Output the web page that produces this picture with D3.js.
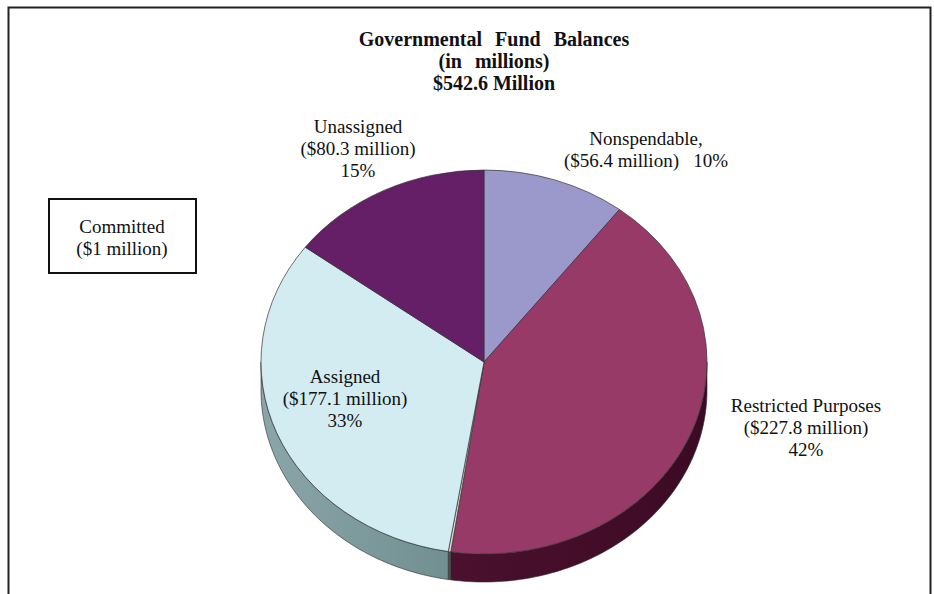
<!DOCTYPE html>
<html>
<head>
<meta charset="utf-8">
<script src="https://cdn.jsdelivr.net/npm/d3@7"></script>
<style>
  html, body { margin: 0; padding: 0; background: #fff; }
</style>
</head>
<body>
<div class="chart-wrapper"></div>
<script>
//====================DATA===================

const categories = ['Nonspendable', 'Restricted Purposes', 'Committed', 'Assigned', 'Unassigned'];
const amounts = [56.4, 227.8, 1, 177.1, 80.3];
const titleLines = ['Governmental Fund Balances', '(in millions)', '$542.6 Million'];

//====================STYLE / LAYOUT===================

const serif = 'Liberation Serif';

const topColors = {
  'Nonspendable': '#9b98cb',
  'Restricted Purposes': '#973a68',
  'Committed': '#d9d9d9',
  'Assigned': '#d3ecf1',
  'Unassigned': '#651f66'
};
const sideColors = {
  'Nonspendable': ['#6c6a92', '#4d4b6c'],
  'Restricted Purposes': ['#561536', '#3c0a24'],
  'Committed': ['#555', '#444'],
  'Assigned': ['#8aa6a8', '#4f6e71'],
  'Unassigned': ['#451346', '#300c31']
};

const width = 934;
const height = 594;
const cx = 484, cy = 362;
const rx = 223, ry = 192, depth = 28;

const atomEl = d3.select('.chart-wrapper');

const svg = atomEl.append('svg')
  .attr('width', width)
  .attr('height', height)
  .attr('font-family', serif);

// frame
svg.append('rect')
  .attr('x', 8.5).attr('y', 7.5)
  .attr('width', 922).attr('height', 620)
  .attr('fill', 'none')
  .attr('stroke', '#222')
  .attr('stroke-width', 2);

//====================TITLE===================

svg.append('g')
  .selectAll('text')
  .data(titleLines)
  .enter()
  .append('text')
  .attr('x', 494)
  .attr('y', (d, i) => 46 + i * 22)
  .attr('text-anchor', 'middle')
  .attr('font-family', serif)
  .attr('font-weight', 'bold')
  .attr('font-size', 20)
  .attr('fill', '#111')
  .attr('word-spacing', (d, i) => i < 2 ? 8 : 0)
  .text(d => d);

//====================PIE===================

const total = d3.sum(amounts);
const pie = d3.pie().sort(null).value(d => d.value);
const arcs = pie(categories.map((c, i) => ({ name: c, value: amounts[i] })));

const pt = (a, dy = 0) => [cx + rx * Math.sin(a), cy - ry * Math.cos(a) + dy];

const defs = svg.append('defs');
categories.forEach((c, i) => {
  const g = defs.append('linearGradient')
    .attr('id', 'side' + i)
    .attr('gradientUnits', 'userSpaceOnUse')
    .attr('x1', cx - rx).attr('x2', cx + rx)
    .attr('y1', 0).attr('y2', 0);
  g.append('stop').attr('offset', '0%').attr('stop-color', sideColors[c][0]);
  g.append('stop').attr('offset', '100%').attr('stop-color', sideColors[c][1]);
});

// side walls: only the front half of the ellipse is visible
const sidePath = d => {
  const s = Math.max(d.startAngle, Math.PI / 2);
  const e = Math.min(d.endAngle, Math.PI * 3 / 2);
  if (s >= e) return null;
  const n = Math.max(2, Math.ceil((e - s) / 0.02));
  const angles = d3.range(n + 1).map(k => s + (e - s) * k / n);
  const top = angles.map(a => pt(a));
  const bottom = angles.slice().reverse().map(a => pt(a, depth));
  return d3.line()(top.concat(bottom)) + 'Z';
};

svg.append('g')
  .attr('class', 'sides')
  .selectAll('path')
  .data(arcs.filter(d => sidePath(d)))
  .enter()
  .append('path')
  .attr('d', sidePath)
  .attr('fill', d => 'url(#side' + d.index + ')')
  .attr('stroke', '#2a2a2a')
  .attr('stroke-width', 0.6);

const arc = d3.arc().innerRadius(0).outerRadius(rx);

svg.append('g')
  .attr('class', 'tops')
  .attr('transform', `translate(${cx},${cy}) scale(1,${ry / rx})`)
  .selectAll('path')
  .data(arcs)
  .enter()
  .append('path')
  .attr('d', arc)
  .attr('fill', d => topColors[d.data.name])
  .attr('stroke', '#333')
  .attr('stroke-width', 0.7)
  .attr('vector-effect', 'non-scaling-stroke');

//====================LABELS===================

const fmtM = v => `($${v} million)`;
const pct = v => Math.round(v / total * 100) + '%';

const labelLayout = {
  'Nonspendable': { x: 646, y: 145 },
  'Restricted Purposes': { x: 806, y: 412 },
  'Committed': { x: 122, y: 233 },
  'Assigned': { x: 345, y: 383 },
  'Unassigned': { x: 358, y: 133 }
};

const labelLines = d => {
  const name = d.data.name, v = d.data.value;
  if (name === 'Nonspendable') return [name + ',', fmtM(v) + '\u00a0\u00a0 ' + pct(v)];
  if (name === 'Committed') return [name, fmtM(v)];
  return [name, fmtM(v), pct(v)];
};

// committed box
const cl = labelLayout['Committed'];
svg.append('rect')
  .attr('x', cl.x - 73).attr('y', 199)
  .attr('width', 147).attr('height', 74)
  .attr('fill', '#fff')
  .attr('stroke', '#111')
  .attr('stroke-width', 2);

const labels = svg.append('g')
  .attr('class', 'labels')
  .selectAll('text')
  .data(arcs)
  .enter()
  .append('text')
  .attr('text-anchor', 'middle')
  .attr('font-family', serif)
  .attr('fill', '#111')
  .attr('font-size', 19);

labels.selectAll('tspan')
  .data(d => labelLines(d).map(t => ({ t, pos: labelLayout[d.data.name] })))
  .enter()
  .append('tspan')
  .attr('x', d => d.pos.x)
  .attr('y', (d, i) => d.pos.y + i * 22)
  .text(d => d.t);
</script>
</body>
</html>
